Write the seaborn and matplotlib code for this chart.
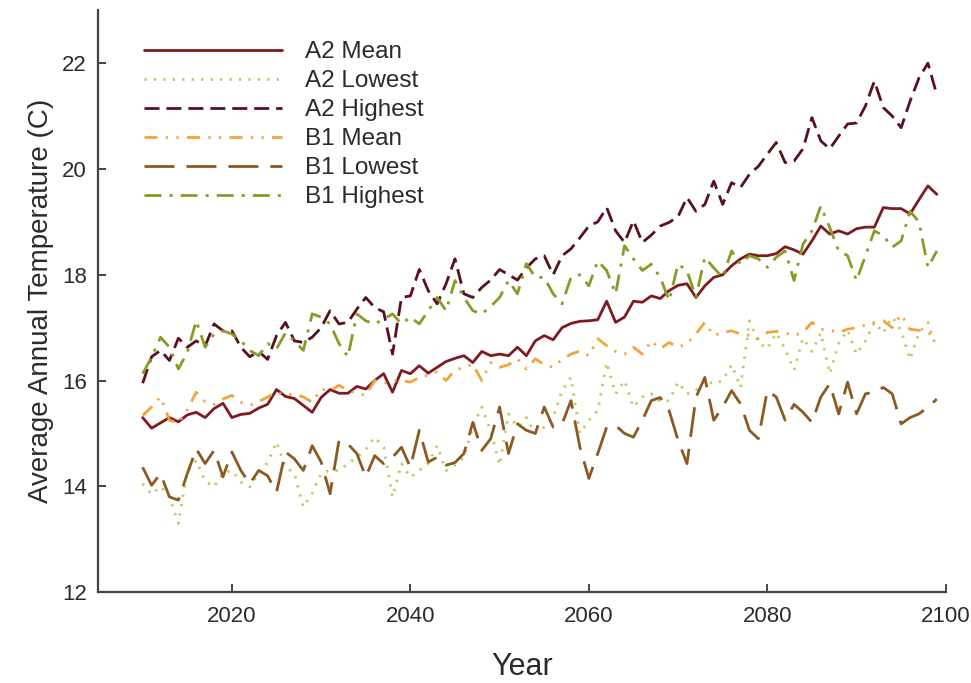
import numpy as np
import pandas as pd
import matplotlib
matplotlib.use("Agg")
import matplotlib.pyplot as plt
import seaborn as sns

# %% Data, years 2010-2099
years = list(range(2010, 2100))

a2_mean = [15.30, 15.10, 15.20, 15.30, 15.22, 15.35, 15.40, 15.30, 15.47, 15.57,
           15.30, 15.36, 15.38, 15.48, 15.55, 15.83, 15.70, 15.66, 15.53, 15.40,
           15.68, 15.83, 15.76, 15.76, 15.89, 15.84, 16.00, 16.13, 15.78, 16.19,
           16.13, 16.28, 16.14, 16.25, 16.36, 16.42, 16.47, 16.34, 16.55, 16.47,
           16.50, 16.47, 16.63, 16.47, 16.75, 16.85, 16.77, 17.00, 17.08, 17.12,
           17.13, 17.15, 17.50, 17.10, 17.20, 17.50, 17.48, 17.60, 17.55, 17.70,
           17.80, 17.83, 17.57, 17.79, 17.95, 18.00, 18.17, 18.30, 18.39, 18.36,
           18.36, 18.40, 18.53, 18.47, 18.39, 18.64, 18.92, 18.77, 18.83, 18.77,
           18.87, 18.90, 18.90, 19.27, 19.25, 19.25, 19.15, 19.42, 19.68, 19.52]

a2_low = [14.05, 13.85, 14.00, 13.80, 13.30, 14.30, 14.49, 14.10, 13.99, 14.25,
          14.30, 14.08, 13.99, 14.25, 14.45, 14.84, 14.36, 14.25, 13.61, 13.87,
          14.25, 14.30, 14.30, 14.43, 14.55, 14.70, 14.93, 14.74, 13.80, 14.43,
          14.17, 14.30, 14.43, 14.77, 14.30, 14.40, 14.55, 15.12, 15.50, 15.06,
          14.40, 15.37, 15.12, 15.30, 15.00, 15.12, 15.31, 15.81, 16.06, 15.00,
          15.25, 15.43, 16.34, 15.75, 16.00, 15.50, 15.69, 15.75, 15.60, 15.62,
          15.97, 15.75, 15.81, 16.00, 15.94, 16.00, 16.30, 15.87, 17.13, 16.72,
          16.60, 16.90, 16.60, 16.20, 16.80, 16.55, 16.90, 16.13, 16.70, 16.95,
          16.50, 16.75, 17.10, 16.90, 17.20, 16.95, 16.40, 16.90, 17.10, 16.60]

a2_high = [15.95, 16.45, 16.57, 16.38, 16.80, 16.63, 16.75, 16.65, 17.07, 16.94,
           16.94, 16.63, 16.45, 16.55, 16.40, 16.85, 17.10, 16.75, 16.72, 16.82,
           17.00, 17.32, 17.07, 17.10, 17.35, 17.57, 17.38, 17.30, 16.50, 17.57,
           17.60, 18.10, 17.70, 17.45, 17.83, 18.30, 17.64, 17.57, 17.76, 17.90,
           18.10, 18.00, 17.90, 18.13, 18.30, 18.36, 18.00, 18.36, 18.49, 18.70,
           18.92, 19.00, 19.27, 18.83, 18.61, 19.02, 18.61, 18.75, 18.92, 18.99,
           19.10, 19.46, 19.20, 19.33, 19.77, 19.33, 19.74, 19.65, 19.90, 20.05,
           20.28, 20.50, 20.12, 20.15, 20.38, 20.97, 20.53, 20.38, 20.62, 20.85,
           20.87, 21.19, 21.66, 21.16, 21.00, 20.78, 21.28, 21.72, 22.00, 21.40]

b1_mean = [15.34, 15.50, 15.69, 15.25, 15.20, 15.45, 15.78, 15.60, 15.55, 15.65,
           15.72, 15.59, 15.53, 15.60, 15.69, 15.78, 15.72, 15.75, 15.69, 15.59,
           15.84, 15.81, 15.91, 15.81, 15.76, 15.72, 16.00, 15.94, 16.00, 16.00,
           15.97, 16.06, 16.10, 16.16, 16.00, 16.20, 16.25, 16.31, 16.00, 16.34,
           16.25, 16.30, 16.41, 16.22, 16.41, 16.30, 16.25, 16.40, 16.50, 16.56,
           16.47, 16.79, 16.66, 16.55, 16.50, 16.63, 16.50, 16.75, 16.60, 16.72,
           16.63, 16.70, 16.88, 17.10, 16.85, 16.91, 16.94, 16.88, 16.85, 16.79,
           16.91, 16.93, 16.90, 16.85, 16.91, 17.10, 16.97, 16.95, 16.91, 16.97,
           17.00, 17.05, 17.10, 17.13, 17.00, 17.25, 16.97, 16.95, 16.88, 16.91]

b1_low = [14.36, 14.02, 14.24, 13.80, 13.74, 14.24, 14.71, 14.43, 14.68, 14.18,
          14.65, 14.30, 14.05, 14.30, 14.20, 13.89, 14.65, 14.52, 14.30, 14.77,
          14.46, 13.86, 14.87, 14.80, 14.62, 14.18, 14.58, 14.43, 14.55, 14.74,
          14.36, 15.06, 14.46, 14.55, 14.40, 14.45, 14.62, 15.21, 14.68, 14.90,
          15.50, 14.62, 15.18, 15.06, 15.00, 15.50, 15.12, 15.18, 15.62, 14.74,
          14.15, 14.62, 15.12, 15.15, 15.00, 14.93, 15.25, 15.62, 15.68, 15.43,
          14.87, 14.43, 15.68, 16.06, 15.25, 15.50, 15.81, 15.56, 15.06, 14.90,
          15.81, 15.69, 15.25, 15.55, 15.40, 15.21, 15.69, 15.94, 15.37, 15.97,
          15.37, 15.75, 15.78, 15.87, 15.75, 15.18, 15.30, 15.37, 15.50, 15.65]

b1_high = [16.13, 16.44, 16.82, 16.63, 16.22, 16.53, 17.13, 16.63, 16.88, 16.94,
           16.88, 16.75, 16.57, 16.47, 16.70, 16.60, 16.90, 16.75, 16.57, 17.26,
           17.20, 17.07, 16.70, 16.45, 17.26, 17.13, 17.07, 17.16, 17.26, 17.07,
           17.20, 17.07, 17.32, 17.57, 17.32, 17.89, 17.57, 17.32, 17.26, 17.40,
           17.57, 17.89, 17.64, 18.21, 17.95, 17.95, 17.64, 17.45, 17.95, 18.00,
           17.79, 18.26, 18.08, 17.64, 18.55, 18.30, 18.08, 18.20, 17.95, 17.51,
           18.20, 18.08, 17.57, 18.33, 18.13, 17.95, 18.45, 18.20, 18.36, 18.30,
           18.14, 18.33, 18.45, 17.89, 18.58, 18.83, 19.30, 18.89, 18.45, 18.36,
           17.89, 18.36, 18.83, 18.74, 18.52, 18.64, 19.20, 19.00, 18.14, 18.45]

series_names = ["A2 Mean", "A2 Lowest", "A2 Highest", "B1 Mean", "B1 Lowest", "B1 Highest"]
series_values = [a2_mean, a2_low, a2_high, b1_mean, b1_low, b1_high]

# %% Long-form table for seaborn
df = pd.concat(
    [pd.DataFrame({"Year": years, "Temp": vals, "Series": name})
     for name, vals in zip(series_names, series_values)],
    ignore_index=True,
)

palette = {
    "A2 Mean": "#7d1a22",
    "A2 Lowest": "#bcc95e",
    "A2 Highest": "#5a0f1c",
    "B1 Mean": "#f2a33a",
    "B1 Lowest": "#8b5a22",
    "B1 Highest": "#8a9a26",
}
dashes = {
    "A2 Mean": "",
    "A2 Lowest": (0.8, 2.6),
    "A2 Highest": (5.4, 2.5),
    "B1 Mean": (4.7, 3.0, 0.8, 3.0, 0.8, 3.0),
    "B1 Lowest": (10.8, 4.3),
    "B1 Highest": (6.1, 2.9, 1.1, 2.9),
}

# %% Plot
sns.set_style("ticks")
plt.rcParams["font.family"] = ["Liberation Sans", "DejaVu Sans"]
text_col = "#2b2b2b"

fig = plt.figure(figsize=(9.71, 6.83), dpi=100)
ax = fig.add_axes([0.101, 0.133, 0.873, 0.852])

sns.lineplot(data=df, x="Year", y="Temp", hue="Series", style="Series",
             hue_order=series_names, style_order=series_names,
             palette=palette, dashes=dashes, linewidth=2.0, ax=ax)

ax.set_xlim(2005, 2100)
ax.set_ylim(12, 23)
ax.set_xticks([2020, 2040, 2060, 2080, 2100])
ax.set_yticks([12, 14, 16, 18, 20, 22])
ax.tick_params(direction="in", length=6, width=1.4, color="#444444",
               labelsize=16, labelcolor=text_col)
ax.tick_params(axis="x", pad=10)
ax.tick_params(axis="y", pad=8)

sns.despine(ax=ax)
for side in ["left", "bottom"]:
    ax.spines[side].set_color("#444444")
    ax.spines[side].set_linewidth(1.6)

ax.set_xlabel("Year", fontsize=22, color=text_col, labelpad=18)
ax.set_ylabel("Average Annual Temperature (C)", fontsize=20, color=text_col, labelpad=6)

sns.move_legend(ax, "upper left", bbox_to_anchor=(0.054, 0.947), title=None,
                frameon=False, fontsize=17.5, handlelength=5.7, handletextpad=0.95,
                labelspacing=0.29, borderpad=0, borderaxespad=0)
for t in ax.get_legend().get_texts():
    t.set_color(text_col)

fig.savefig("out.png", dpi=100)
